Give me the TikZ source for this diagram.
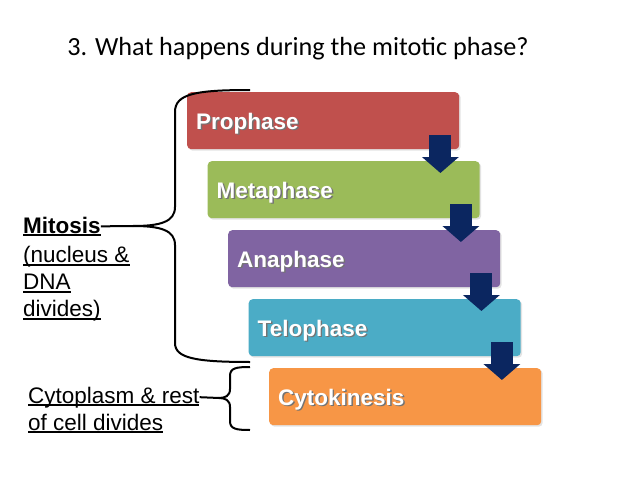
\documentclass[tikz,border=0pt]{standalone}
\usepackage{fontspec}
\setmainfont{Liberation Sans}
\newfontfamily\titlefont{Carlito}
\usetikzlibrary{calc,arrows.meta,shadows}
\definecolor{proRed}{HTML}{C0504D}
\definecolor{metGreen}{HTML}{9BBB59}
\definecolor{anaPurple}{HTML}{8064A2}
\definecolor{telBlue}{HTML}{4BACC6}
\definecolor{cytOrange}{HTML}{F79646}
\definecolor{arrowNavy}{HTML}{0B2660}
\newcommand\undl[1]{\setbox0\hbox{#1}\rlap{\rule[-3pt]{\wd0}{1.6pt}}\box0}
\newcommand\shtxt[1]{\rlap{\hspace{1.3pt}\raisebox{-1.3pt}{\color{black!55}#1}}#1}
\begin{document}
\begin{tikzpicture}[
  x=1pt,y=-1pt,
  phase/.style={anchor=north west,rounded corners=4pt,minimum height=57pt,
    text width=254pt,inner xsep=9pt,align=left,text=white,
    text height=22pt,text depth=5pt,
    font=\fontsize{22.5}{26}\selectfont\bfseries,
    drop shadow={opacity=0.22,shadow xshift=1.5pt,shadow yshift=-1.5pt}},
  flow/.style={draw=arrowNavy,line width=22pt,
    -{Triangle[width=36pt,length=16pt]}},
  side/.style={anchor=base west,inner sep=0pt,font=\fontsize{22.5}{27}\selectfont},
  brace/.style={draw=black,line width=2pt},
]
\useasboundingbox[fill=white] (0,0) rectangle (638,479);
\node[anchor=base,font=\titlefont\fontsize{26.2}{30}\selectfont] (title) at (298,56)
  {3. What happens during the mitotic phase?};
\foreach \name/\txt/\col [count=\i from 0] in
  {pro/Prophase/proRed,met/Metaphase/metGreen,ana/Anaphase/anaPurple,
   tel/Telophase/telBlue,cyt/Cytokinesis/cytOrange}{
  \node[phase,fill=\col] (\name) at ({187+20.5*\i},{92+69*\i}) {\shtxt{\txt}};
}
\foreach \a/\b in {pro/met,met/ana,ana/tel,tel/cyt}{
  \draw[flow] ($(\a.south east)+(-19,-14)$) -- ($(\a.south east |- \b.north)+(-19,12)$);
}
\node[side] (mitosis) at (23,233) {\undl{\bfseries Mitosis}};
\node[side,anchor=north west,align=left,yshift=-10pt] (mitnote) at (mitosis.south west)
  {\undl{(nucleus \&}\\ \undl{DNA}\\ \undl{divides)}};
\node[side] (cyto) at (28,403) {\undl{Cytoplasm \& rest}};
\node[side] (cytonote) at (28,430) {\undl{of cell divides}};
\coordinate (mtip) at (133,226);
\coordinate (ctip) at (219,398);
\draw[brace] (250,90) .. controls (195,90) and (175,94) .. (175,112) -- (175,207)
  .. controls (175,222) and (160,226) .. (mtip)
  .. controls (160,226) and (175,230) .. (175,245) -- (175,343)
  .. controls (175,358) and (195,362) .. (250,362);
\draw[brace] (250,367) .. controls (236,367) and (230,368) .. (230,376) -- (230,389)
  .. controls (230,396) and (225,398) .. (ctip)
  .. controls (225,398) and (230,400) .. (230,407) -- (230,421)
  .. controls (230,429) and (236,430) .. (250,430);
\draw[brace] (mitosis.east) -- (mtip);
\draw[brace] (cyto.east) -- (ctip);
\end{tikzpicture}
\end{document}
